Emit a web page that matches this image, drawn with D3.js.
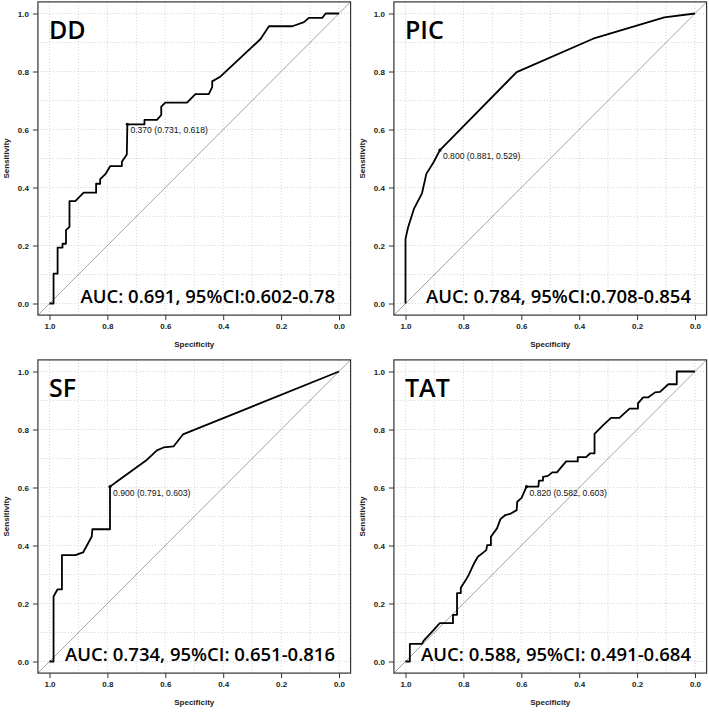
<!DOCTYPE html>
<html>
<head>
<meta charset="utf-8">
<script src="https://cdn.jsdelivr.net/npm/d3@7"></script>
<style>
  html, body { margin: 0; padding: 0; background: #fff; }
  svg { display: block; }
</style>
</head>
<body>
<svg id="chart" width="709" height="713"></svg>
<script>
// ---------- DATA ----------
const panelNames = ["DD", "PIC", "SF", "TAT"];
const aucLabels = [
  "AUC: 0.691, 95%CI:0.602-0.78",
  "AUC: 0.784, 95%CI:0.708-0.854",
  "AUC: 0.734, 95%CI: 0.651-0.816",
  "AUC: 0.588, 95%CI: 0.491-0.684"
];
const bestThreshold = ["0.370", "0.800", "0.900", "0.820"];
const bestSpec = [0.731, 0.881, 0.791, 0.582];
const bestSens = [0.618, 0.529, 0.603, 0.603];

const ddSpec = [1.0,0.986,0.986,0.972,0.972,0.955,0.955,0.943,0.943,0.931,0.931,0.911,0.882,0.839,0.839,0.825,0.825,0.807,0.79,0.75,0.75,0.733,0.731,0.672,0.672,0.629,0.614,0.614,0.6,0.525,0.496,0.45,0.438,0.438,0.409,0.271,0.242,0.161,0.121,0.104,0.058,0.046,0.0];
const ddSens = [0.0,0.0,0.103,0.103,0.193,0.193,0.206,0.206,0.253,0.264,0.353,0.353,0.382,0.382,0.413,0.413,0.429,0.446,0.474,0.474,0.489,0.514,0.618,0.618,0.633,0.633,0.65,0.679,0.693,0.693,0.722,0.722,0.746,0.766,0.783,0.912,0.956,0.956,0.97,0.985,0.985,1.0,1.0];

const picSpec = [1.0,1.0,0.991,0.971,0.943,0.928,0.903,0.881,0.616,0.352,0.106,0.0];
const picSens = [0.0,0.223,0.263,0.326,0.38,0.447,0.487,0.529,0.798,0.913,0.987,1.0];

const sfSpec = [1.0,0.986,0.986,0.972,0.957,0.957,0.911,0.884,0.854,0.852,0.791,0.791,0.767,0.663,0.629,0.606,0.571,0.539,0.0];
const sfSens = [0.0,0.0,0.224,0.249,0.249,0.367,0.367,0.376,0.431,0.456,0.456,0.603,0.621,0.696,0.728,0.738,0.742,0.783,1.0];

const tatSpec = [1.0,0.985,0.985,0.943,0.937,0.92,0.908,0.897,0.882,0.836,0.836,0.822,0.822,0.809,0.809,0.793,0.782,0.764,0.75,0.736,0.721,0.718,0.705,0.705,0.684,0.672,0.655,0.636,0.616,0.614,0.599,0.582,0.541,0.539,0.525,0.525,0.508,0.493,0.477,0.445,0.405,0.405,0.376,0.362,0.347,0.347,0.318,0.29,0.261,0.246,0.226,0.197,0.197,0.179,0.161,0.138,0.121,0.092,0.063,0.063,0.0];
const tatSens = [0.0,0.0,0.061,0.061,0.072,0.09,0.103,0.115,0.132,0.132,0.161,0.161,0.236,0.236,0.254,0.279,0.298,0.337,0.361,0.372,0.384,0.401,0.401,0.43,0.459,0.491,0.505,0.51,0.522,0.551,0.564,0.603,0.603,0.624,0.624,0.637,0.64,0.652,0.652,0.69,0.69,0.705,0.705,0.718,0.718,0.785,0.814,0.84,0.84,0.854,0.872,0.872,0.89,0.911,0.911,0.928,0.93,0.956,0.956,1.0,1.0];

const specList = [ddSpec, picSpec, sfSpec, tatSpec];
const sensList = [ddSens, picSens, sfSens, tatSens];
const tickValues = [0, 0.2, 0.4, 0.6, 0.8, 1.0];
const gridValues = d3.range(0, 11).map(i => i / 10);

// ---------- LAYOUT ----------
const panelOrigins = [[0, 0], [356, 0], [0, 358], [356, 358]];
const svg = d3.select("#chart");

panelNames.forEach((name, i) => {
  const [ox, oy] = panelOrigins[i];
  const x = d3.scaleLinear().domain([1, 0]).range([ox + 49.5, ox + 339]);
  const y = d3.scaleLinear().domain([0, 1]).range([oy + 303.5, oy + 13.5]);
  const bx0 = x(1.04), bx1 = x(-0.04), by0 = y(-0.04), by1 = y(1.04);
  const g = svg.append("g");

  // grid
  g.selectAll(".gx").data(gridValues).join("line")
    .attr("x1", d => x(d)).attr("x2", d => x(d))
    .attr("y1", by1).attr("y2", by0)
    .attr("stroke", "#c8c8c8").attr("stroke-width", 0.8).attr("stroke-dasharray", "1,2");
  g.selectAll(".gy").data(gridValues).join("line")
    .attr("y1", d => y(d)).attr("y2", d => y(d))
    .attr("x1", bx0).attr("x2", bx1)
    .attr("stroke", "#c8c8c8").attr("stroke-width", 0.8).attr("stroke-dasharray", "1,2");

  // diagonal
  g.append("line")
    .attr("x1", x(1.04)).attr("y1", y(-0.04))
    .attr("x2", x(-0.04)).attr("y2", y(1.04))
    .attr("stroke", "#9a9a9a").attr("stroke-width", 0.9);

  // ROC curve
  const pts = specList[i].map((s, k) => [s, sensList[i][k]]);
  g.append("path")
    .attr("d", d3.line().x(d => x(d[0])).y(d => y(d[1]))(pts))
    .attr("fill", "none").attr("stroke", "#000").attr("stroke-width", 1.8)
    .attr("stroke-linejoin", "round");

  // best point
  g.append("circle").attr("cx", x(bestSpec[i])).attr("cy", y(bestSens[i]))
    .attr("r", 1.6).attr("fill", "#000");
  g.append("text")
    .attr("x", x(bestSpec[i]) + 3).attr("y", y(bestSens[i]) + 9)
    .attr("font-family", "Liberation Sans, Arial, sans-serif")
    .attr("font-size", 8.6).attr("fill", "#111")
    .text(`${bestThreshold[i]} (${bestSpec[i].toFixed(3)}, ${bestSens[i].toFixed(3)})`);

  // box
  g.append("rect").attr("x", bx0).attr("y", by1)
    .attr("width", bx1 - bx0).attr("height", by0 - by1)
    .attr("fill", "none").attr("stroke", "#333").attr("stroke-width", 1.2);

  // axes
  const xAxis = d3.axisBottom(x).tickValues(tickValues).tickFormat(d3.format(".1f"))
    .tickSize(5).tickPadding(3);
  const gx = g.append("g").attr("transform", `translate(0,${by0})`).call(xAxis);
  gx.select(".domain").remove();
  const yAxis = d3.axisLeft(y).tickValues(tickValues).tickFormat(d3.format(".1f"))
    .tickSize(5).tickPadding(4);
  const gy = g.append("g").attr("transform", `translate(${bx0},0)`).call(yAxis);
  gy.select(".domain").remove();
  [gx, gy].forEach(a => {
    a.selectAll("line").attr("stroke", "#333").attr("stroke-width", 1);
    a.selectAll("text").attr("font-family", "Liberation Sans, Arial, sans-serif")
      .attr("font-size", 8).attr("font-weight", "bold").attr("fill", "#222");
  });

  // axis titles
  g.append("text").attr("x", (bx0 + bx1) / 2).attr("y", by0 + 32)
    .attr("text-anchor", "middle")
    .attr("font-family", "Liberation Sans, Arial, sans-serif")
    .attr("font-size", 8).attr("font-weight", "bold").attr("fill", "#222")
    .text("Specificity");
  g.append("text")
    .attr("transform", `translate(${ox + 9},${(by0 + by1) / 2}) rotate(-90)`)
    .attr("text-anchor", "middle")
    .attr("font-family", "Liberation Sans, Arial, sans-serif")
    .attr("font-size", 8).attr("font-weight", "bold").attr("fill", "#222")
    .text("Sensitivity");

  // panel title
  g.append("text").attr("x", x(1) - 0.5).attr("y", y(1) + 25)
    .attr("font-family", "Open Sans, sans-serif")
    .attr("font-size", 25).attr("font-weight", 600).attr("fill", "#000")
    .text(name);

  // AUC label
  g.append("text").attr("x", x(0) - 4).attr("y", y(0) - 1)
    .attr("text-anchor", "end")
    .attr("font-family", "Open Sans, sans-serif")
    .attr("font-size", 18.5).attr("font-weight", 600).attr("fill", "#000")
    .text(aucLabels[i]);
});
</script>
</body>
</html>
